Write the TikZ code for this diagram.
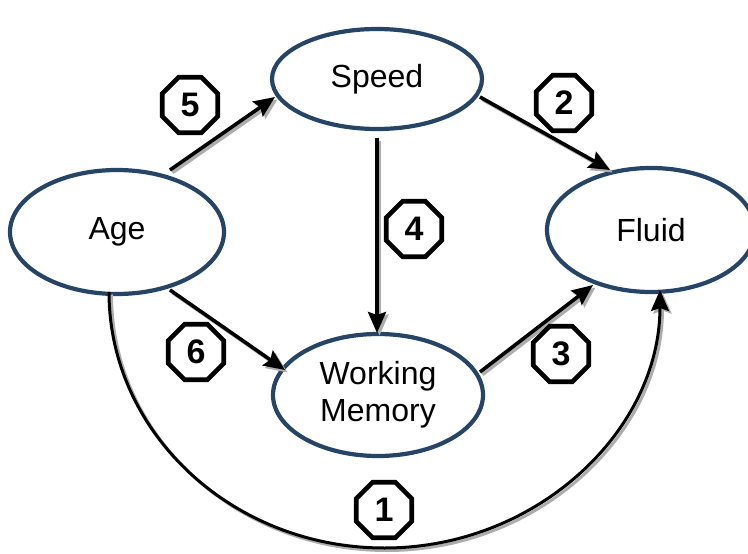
\documentclass[tikz,border=0pt]{standalone}
\usepackage{fontspec}
\setmainfont{Liberation Sans}
\usetikzlibrary{shapes.geometric,arrows.meta,calc}
\definecolor{ringblue}{HTML}{264466}
\definecolor{shadowgray}{gray}{0.68}
\tikzset{
  var/.style={ellipse, draw=ringblue, line width=4.2pt, fill=white, inner sep=0pt,
    font=\fontsize{32}{37}\selectfont, align=center},
  badge/.style={regular polygon, regular polygon sides=8, draw=black, line width=4.6pt,
    minimum size=60pt, inner sep=0pt, font=\fontsize{34}{35}\selectfont\bfseries},
  arr/.style={line width=3.6pt, -{Stealth[length=21pt,width=18pt,inset=3pt]},
    preaction={draw=shadowgray, line width=3.6pt, -{Stealth[length=21pt,width=18pt,inset=3pt,color=shadowgray]},
      transform canvas={shift={(2.5pt,-2.5pt)}}}},
  curvearr/.style={line width=3pt, -{Stealth[length=21pt,width=18pt,inset=3pt]},
    preaction={draw=shadowgray, line width=3pt, -{Stealth[length=21pt,width=18pt,inset=3pt,color=shadowgray]},
      transform canvas={shift={(2.5pt,-2.5pt)}}}}
}
\begin{document}
\begin{tikzpicture}[x=1pt,y=-1pt]
\useasboundingbox (0,0) rectangle (748,554);
% nodes
\node[var, minimum width=210pt, minimum height=100pt] (speed) at (377,79) {Speed};
\node[var, minimum width=214pt, minimum height=124pt] (age) at (117,232) {Age};
\node[var, minimum width=208pt, minimum height=124pt] (fluid) at (651,230) {Fluid};
\node[var, minimum width=210pt, minimum height=122pt] (wm) at (378,395) {Working\\Memory};
\coordinate (bot) at (384.5,548);
% path 1 (curved)
\draw[curvearr] ($(age)+(-8,60)$) .. controls +(0,141) and +(-152,0) .. (bot)
  .. controls +(152,0) and +(0,141) .. ($(fluid)+(9,60)$);
% straight arrows
\draw[arr] ($(age)+(53,-62)$) -- ($(speed)+(-102,18)$);
\draw[arr] ($(speed)+(103,18)$) -- ($(fluid)+(-41,-60)$);
\draw[arr] ($(speed)+(0,59)$) -- ($(wm)+(-1,-62)$);
\draw[arr] ($(age)+(53,58)$) -- ($(wm)+(-93,-25)$);
\draw[arr] ($(wm)+(102,-23)$) -- ($(fluid)+(-58,55)$);
% badges
\node[badge] (b5) at (190,105) {5};
\node[badge] (b2) at (564,103) {2};
\node[badge] (b4) at (414,229) {4};
\node[badge] (b6) at (196,352) {6};
\node[badge] (b3) at (561,354) {3};
\node[badge] (b1) at (384,510) {1};
\end{tikzpicture}
\end{document}
